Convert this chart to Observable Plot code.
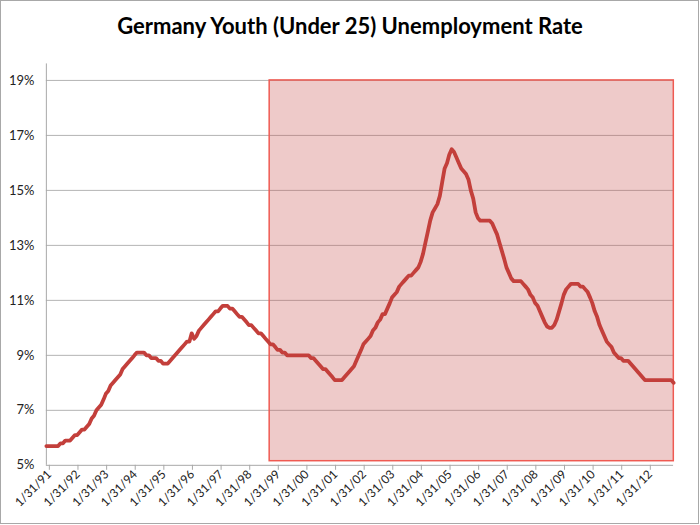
<!DOCTYPE html>
<html>
<head>
<meta charset="utf-8">
<script src="https://cdn.jsdelivr.net/npm/d3@7"></script>
<script src="https://cdn.jsdelivr.net/npm/@observablehq/plot@0.6"></script>
<style>
  html, body { margin: 0; padding: 0; background: #fff; }
  #frame { position: relative; width: 699px; height: 524px; box-sizing: border-box; border: 1px solid #a8a8a8; overflow: hidden; }
  #title { position: absolute; left: -1px; top: -1px; width: 700px; height: 55px; text-align: center;
           font-family: Lato, sans-serif; font-weight: bold; font-size: 22px; line-height: 51px; color: #000; }
  #chart { position: absolute; left: -1px; top: 54px; }
</style>
</head>
<body>
<div id="frame">
  <div id="title">Germany Youth (Under 25) Unemployment Rate</div>
  <div id="chart"></div>
</div>
<script>
// Monthly youth (under 25) unemployment rate, %, month-end Jan 1991 .. Dec 2012
const firstYear = 1991;
const monthlyRate = [
  // 1991
  5.7, 5.7, 5.7, 5.7, 5.7, 5.7, 5.8, 5.8, 5.9, 5.9, 5.9, 6.0,
  // 1992
  6.1, 6.1, 6.2, 6.3, 6.3, 6.4, 6.5, 6.7, 6.8, 7.0, 7.1, 7.2,
  // 1993
  7.4, 7.6, 7.7, 7.9, 8.0, 8.1, 8.2, 8.3, 8.5, 8.6, 8.7, 8.8,
  // 1994
  8.9, 9.0, 9.1, 9.1, 9.1, 9.1, 9.0, 9.0, 8.9, 8.9, 8.9, 8.8,
  // 1995
  8.8, 8.7, 8.7, 8.7, 8.8, 8.9, 9.0, 9.1, 9.2, 9.3, 9.4, 9.5,
  // 1996
  9.5, 9.8, 9.6, 9.7, 9.9, 10.0, 10.1, 10.2, 10.3, 10.4, 10.5, 10.6,
  // 1997
  10.6, 10.7, 10.8, 10.8, 10.8, 10.7, 10.7, 10.6, 10.5, 10.4, 10.4, 10.3,
  // 1998
  10.2, 10.1, 10.1, 10.0, 9.9, 9.8, 9.8, 9.7, 9.6, 9.5, 9.4, 9.4,
  // 1999
  9.3, 9.2, 9.2, 9.1, 9.1, 9.0, 9.0, 9.0, 9.0, 9.0, 9.0, 9.0,
  // 2000
  9.0, 9.0, 9.0, 8.9, 8.9, 8.8, 8.7, 8.6, 8.5, 8.5, 8.4, 8.3,
  // 2001
  8.2, 8.1, 8.1, 8.1, 8.1, 8.2, 8.3, 8.4, 8.5, 8.6, 8.8, 9.0,
  // 2002
  9.2, 9.4, 9.5, 9.6, 9.7, 9.9, 10.0, 10.2, 10.3, 10.5, 10.5, 10.7,
  // 2003
  10.9, 11.1, 11.2, 11.3, 11.5, 11.6, 11.7, 11.8, 11.9, 11.9, 12.0, 12.1,
  // 2004
  12.2, 12.4, 12.7, 13.1, 13.5, 13.9, 14.2, 14.35, 14.5, 14.8, 15.3, 15.8,
  // 2005
  16.0, 16.3, 16.5, 16.4, 16.2, 16.0, 15.8, 15.7, 15.6, 15.4, 15.0, 14.7,
  // 2006
  14.2, 14.0, 13.9, 13.9, 13.9, 13.9, 13.9, 13.8, 13.6, 13.4, 13.1, 12.8,
  // 2007
  12.5, 12.2, 12.0, 11.8, 11.7, 11.7, 11.7, 11.7, 11.6, 11.5, 11.4, 11.2,
  // 2008
  11.1, 10.9, 10.8, 10.6, 10.4, 10.2, 10.05, 10.0, 10.0, 10.1, 10.3, 10.6,
  // 2009
  10.9, 11.2, 11.4, 11.5, 11.6, 11.6, 11.6, 11.6, 11.5, 11.5, 11.4, 11.3,
  // 2010
  11.1, 10.9, 10.6, 10.4, 10.1, 9.9, 9.7, 9.5, 9.4, 9.3, 9.1, 9.0,
  // 2011
  8.9, 8.9, 8.8, 8.8, 8.8, 8.7, 8.6, 8.5, 8.4, 8.3, 8.2, 8.1,
  // 2012
  8.1, 8.1, 8.1, 8.1, 8.1, 8.1, 8.1, 8.1, 8.1, 8.1, 8.1, 8.0
];

const xTickLabels = ["1/31/91","1/31/92","1/31/93","1/31/94","1/31/95","1/31/96","1/31/97",
  "1/31/98","1/31/99","1/31/00","1/31/01","1/31/02","1/31/03","1/31/04","1/31/05","1/31/06",
  "1/31/07","1/31/08","1/31/09","1/31/10","1/31/11","1/31/12"];
const yTicks = [5, 7, 9, 11, 13, 15, 17, 19];

// highlighted period (shaded box)
const highlightStart = "1998-11-20";
const highlightEnd = "2013-01-03";
const highlightLow = 5.15;
const highlightHigh = 19;

const parseTick = d3.utcParse("%m/%d/%y");
const tickDates = xTickLabels.map(parseTick);
const data = monthlyRate.map((v, i) => ({
  date: new Date(Date.UTC(firstYear, i + 1, 0)),
  rate: v
}));
const highlight = [{
  x1: d3.utcParse("%Y-%m-%d")(highlightStart),
  x2: d3.utcParse("%Y-%m-%d")(highlightEnd),
  y1: highlightLow, y2: highlightHigh
}];

const fmtX = d3.utcFormat("%-m/%d/%y");

const chart = Plot.plot({
  width: 700,
  height: 470,
  marginLeft: 46,
  marginRight: 25,
  marginTop: 25,
  marginBottom: 59,
  style: { fontFamily: "Lato, sans-serif", fontSize: "12px", color: "#222", background: "transparent", overflow: "visible" },
  x: { type: "utc", domain: [data[0].date, data[data.length - 1].date] },
  y: { domain: [5, 19] },
  marks: [
    Plot.ruleY(yTicks.slice(1), { stroke: "#b4b4b4", strokeWidth: 1 }),
    Plot.rect(highlight, { x1: "x1", x2: "x2", y1: "y1", y2: "y2",
      fill: "#c8504d", fillOpacity: 0.3, stroke: "#ef5a52", strokeWidth: 1.5 }),
    Plot.ruleY([5], { stroke: "#a8a8a8", strokeWidth: 1 }),
    Plot.ruleX([data[0].date], { y1: 5, y2: 19.6, stroke: "#a8a8a8", strokeWidth: 1 }),
    Plot.axisX({ ticks: tickDates, tickFormat: fmtX, tickRotate: -45, tickSize: 5, tickPadding: 2,
      dy: 0, dx: 3, stroke: "#a8a8a8", fill: "#222", fontSize: 12, label: null }),
    Plot.axisY({ ticks: yTicks, tickFormat: d => d + "%", tickSize: 0, tickPadding: 12,
      fill: "#222", fontSize: 13, label: null }),
    Plot.line(data, { x: "date", y: "rate", stroke: "#c33f3b", strokeWidth: 3.8,
      strokeLinejoin: "round", strokeLinecap: "round" })
  ]
});
document.getElementById("chart").appendChild(chart);
</script>
</body>
</html>
